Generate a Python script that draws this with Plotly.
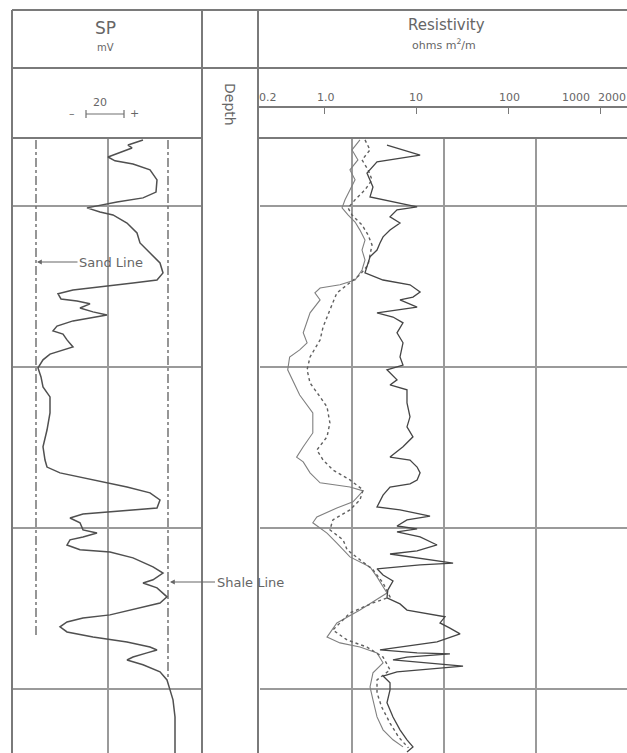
import math
import plotly.graph_objects as go

W, H = 627, 753

# ---- SP curve: depth (ft) and SP (mV) ----
sp_depth = [4979.5, 4981.1, 4982.0, 4983.2, 4984.8, 4986.0, 4987.0, 4988.8, 4991.9, 4995.7,
            4997.5, 4998.8, 4999.7, 5000.6, 5001.9, 5002.8, 5005.3, 5008.4, 5011.5, 5013.7,
            5015.8, 5017.7, 5020.8, 5023.0, 5023.9, 5025.2, 5026.1, 5027.3, 5028.9, 5029.5,
            5030.4, 5031.7, 5032.9, 5033.9, 5034.8, 5035.7, 5037.3, 5038.8, 5039.8, 5041.6,
            5043.8, 5044.7, 5046.0, 5047.8, 5050.3, 5053.1, 5056.2, 5059.3, 5064.3, 5069.6,
            5074.8, 5078.9, 5081.1, 5082.9, 5085.1, 5087.3, 5089.1, 5091.3, 5093.8, 5094.4,
            5095.0, 5095.7, 5096.9, 5098.4, 5100.6, 5101.6, 5102.8, 5103.7, 5105.3, 5106.8,
            5107.5, 5109.3, 5112.1, 5114.0, 5116.1, 5117.1, 5118.6, 5121.4, 5123.3, 5124.8,
            5127.0, 5128.0, 5129.2, 5130.7, 5132.3, 5133.9, 5135.4, 5137.0, 5137.9, 5138.8,
            5140.1, 5141.0, 5142.5, 5144.7, 5147.2, 5150.3, 5153.4, 5158.7, 5164.9, 5169.9]
sp_mv = [-29.5, -37, -35, -40, -47, -43.5, -34.5, -26, -22.5, -23,
         -29.5, -42.5, -51, -57.5, -51, -44.5, -37.5, -32.5, -31, -27.5,
         -24.5, -21, -19.5, -22.5, -34.5, -51, -64.5, -72, -70.5, -62.5,
         -56, -61, -54.5, -47.5, -56, -64.5, -72.5, -74.5, -69.5, -67.5,
         -64.5, -69.5, -76, -79.5, -82, -80.5, -79.5, -76, -76, -77.5,
         -79.5, -78.5, -77.5, -71, -54.5, -37.5, -26, -21, -22.5, -34.5,
         -47.5, -59.5, -66, -61, -59.5, -52.5, -59.5, -66, -67.5, -61,
         -46, -34.5, -24.5, -19.5, -24.5, -29.5, -22.5, -17.5, -21, -31,
         -46, -59.5, -67.5, -71, -67.5, -54.5, -37.5, -26, -22.5, -27.5,
         -34.5, -37.5, -29.5, -21, -17.5, -16, -14.5, -13.5, -13.5, -13.5]

SAND_LINE_MV = -83
SHALE_LINE_MV = -17
sand_line_depth = [4979.5, 5134.2]
shale_line_depth = [4979.5, 5147.2]

# ---- Resistivity curves (ohm m2/m) ----
deep_depth = [4981.1, 4981.7, 4984.2, 4986.3, 4989.8, 4994.1, 4997.2, 5000.3, 5001.2, 5003.4,
              5005.3, 5007.5, 5009.6, 5011.5, 5013.7, 5015.8, 5018.9, 5020.8, 5023.0, 5024.5,
              5026.7, 5028.3, 5029.2, 5031.4, 5033.2, 5034.5, 5036.3, 5039.4, 5042.5, 5046.9,
              5049.4, 5050.9, 5054.0, 5055.6, 5057.1, 5061.2, 5065.5, 5068.6, 5071.7, 5074.8,
              5078.0, 5078.9, 5081.1, 5082.9, 5085.1, 5086.3, 5087.3, 5089.8, 5093.5, 5094.4,
              5096.3, 5097.5, 5099.4, 5100.3, 5101.2, 5102.8, 5105.3, 5107.1, 5108.1, 5109.3,
              5110.9, 5111.5, 5112.7, 5114.6, 5116.5, 5119.3, 5121.7, 5123.6, 5125.5, 5127.6,
              5129.5, 5131.1, 5132.9, 5135.4, 5137.0, 5137.9, 5138.8, 5139.1, 5140.1, 5141.0,
              5142.9, 5143.8, 5144.7, 5146.0, 5148.1, 5150.3, 5154.3, 5158.7, 5162.7, 5165.8,
              5168.0, 5169.6]
deep_res = [4.80, 5.58, 11.0, 3.74, 2.91, 3.38, 3.14, 10.2, 6.17, 5.18,
            6.65, 5.18, 4.35, 4.03, 3.74, 3.14, 2.91, 2.77, 4.35, 8.54,
            11.0, 9.2, 6.65, 10.2, 3.74, 5.58, 7.17, 6.17, 7.17, 6.65,
            7.17, 4.80, 6.17, 5.18, 7.92, 7.92, 8.54, 7.92, 9.2, 7.17,
            5.18, 8.54, 10.2, 11.0, 10.2, 8.54, 5.18, 4.35, 3.74, 6.65,
            14.1, 7.92, 6.17, 10.2, 6.17, 11.0, 16.8, 10.2, 5.18, 10.2,
            25.1, 11.0, 3.74, 4.35, 5.58, 4.9, 4.80, 6.65, 7.92, 20.5,
            18.1, 23.2, 29.9, 16.8, 6.17, 4.03, 10.2, 23.2, 7.92, 5.58,
            32.2, 15.2, 6.17, 4.35, 5.18, 5.18, 4.80, 5.58, 6.65, 7.92,
            9.2, 7.92]

shallow_depth = [4979.5, 4982.6, 4985.7, 4988.8, 4991.9, 4995.0, 4998.1, 5000.6, 5002.8, 5005.0,
                 5007.5, 5010.6, 5013.7, 5016.8, 5019.9, 5023.0, 5024.5, 5025.5, 5027.0, 5029.2,
                 5033.2, 5039.4, 5042.5, 5044.7, 5046.9, 5050.9, 5054.0, 5058.7, 5064.3, 5070.5,
                 5074.8, 5078.0, 5079.5, 5082.9, 5086.0, 5087.3, 5088.5, 5091.9, 5093.8, 5096.6,
                 5098.4, 5101.6, 5104.7, 5109.0, 5112.1, 5115.2, 5120.2, 5125.5, 5129.5, 5133.9,
                 5135.7, 5137.0, 5138.8, 5141.9, 5145.0, 5149.4, 5153.4, 5158.7, 5162.7, 5165.8,
                 5168.0]
shallow_res = [2.44, 2.0, 2.32, 1.90, 2.16, 1.90, 1.68, 1.56, 1.81, 2.16,
               2.44, 2.77, 2.57, 2.77, 2.57, 2.16, 1.48, 0.90, 0.79, 0.90,
               0.70, 0.59, 0.65, 0.54, 0.42, 0.40, 0.45, 0.54, 0.75, 0.75,
               0.59, 0.50, 0.59, 0.70, 0.90, 1.90, 2.64, 2.05, 1.37, 0.83,
               0.75, 1.07, 1.37, 1.90, 3.14, 3.74, 4.80, 2.44, 1.37, 1.07,
               1.48, 2.44, 3.74, 4.35, 3.38, 3.14, 3.38, 3.74, 4.35, 5.58,
               7.17]

medium_depth = [4979.5, 4982.6, 4985.7, 4988.8, 4991.9, 4995.0, 4998.1, 5000.6, 5002.8, 5005.9,
                5009.0, 5012.1, 5015.2, 5018.3, 5021.4, 5023.9, 5027.0, 5032.3, 5037.6, 5041.6,
                5046.9, 5050.9, 5055.0, 5059.3, 5062.4, 5067.4, 5071.7, 5075.8, 5078.9, 5082.0,
                5085.1, 5088.2, 5091.3, 5094.4, 5097.5, 5100.6, 5103.7, 5106.8, 5109.9, 5113.0,
                5117.1, 5121.4, 5123.3, 5126.4, 5131.7, 5134.8, 5137.0, 5140.1, 5144.1, 5147.2,
                5151.2, 5155.6, 5160.6, 5164.9, 5168.3]
medium_res = [2.77, 3.14, 2.57, 2.99, 3.30, 2.77, 2.16, 1.81, 2.0, 2.57,
              2.99, 3.30, 3.14, 2.99, 2.44, 1.90, 1.37, 1.15, 0.97, 0.90,
              0.70, 0.65, 0.70, 0.90, 1.07, 1.15, 1.07, 0.83, 0.97, 1.24,
              1.90, 2.64, 2.44, 1.90, 1.24, 1.15, 1.60, 1.77, 2.44, 3.38,
              4.35, 5.18, 3.38, 1.90, 1.24, 1.77, 2.91, 4.35, 5.18, 3.74,
              3.74, 4.2, 5.18, 6.4, 8.2]

# ---- scales and grids ----
DEPTH_TOP, DEPTH_BOTTOM = 4978.9, 5169.9
depth_grid = [5000, 5050, 5100, 5150]
SP_MIN, SP_MAX = -94.5, 0.0
sp_grid = [-47]
RES_MIN = 0.2
RES_DECADE_PX = 92
res_grid = [2, 20, 200, 2000]
scale_ticks = [1, 10, 100, 1000]
scale_labels = ["0.2", "1.0", "10", "100", "1000", "2000"]


def px(x):
    return x / W


def py(y):
    return 1 - y / H


LINE = "#7a7a7a"
GRID = "#9a9a9a"
CURVE = "#505050"
TEXT = "#666666"
FONT = "DejaVu Sans"

res_log_max = math.log10(RES_MIN) + (W - 260) / RES_DECADE_PX

fig = go.Figure()

# SP track
fig.add_trace(go.Scatter(x=[SAND_LINE_MV] * 2, y=sand_line_depth, mode="lines",
                         line=dict(color="#6a6a6a", width=1.4, dash="dashdot"),
                         xaxis="x", yaxis="y", hoverinfo="skip"))
fig.add_trace(go.Scatter(x=[SHALE_LINE_MV] * 2, y=shale_line_depth, mode="lines",
                         line=dict(color="#6a6a6a", width=1.4, dash="dashdot"),
                         xaxis="x", yaxis="y", hoverinfo="skip"))
fig.add_trace(go.Scatter(x=sp_mv, y=sp_depth, mode="lines",
                         line=dict(color=CURVE, width=1.5),
                         xaxis="x", yaxis="y", name="SP"))

# Resistivity track
fig.add_trace(go.Scatter(x=shallow_res, y=shallow_depth, mode="lines",
                         line=dict(color="#808080", width=1.1),
                         xaxis="x2", yaxis="y2", name="Shallow"))
fig.add_trace(go.Scatter(x=medium_res, y=medium_depth, mode="lines",
                         line=dict(color="#606060", width=1.4, dash="dot"),
                         xaxis="x2", yaxis="y2", name="Medium"))
fig.add_trace(go.Scatter(x=deep_res, y=deep_depth, mode="lines",
                         line=dict(color="#454545", width=1.3),
                         xaxis="x2", yaxis="y2", name="Deep"))

# invisible trace to carry the header scale axis
fig.add_trace(go.Scatter(x=[1], y=[0], mode="markers", marker=dict(opacity=0),
                         xaxis="x3", yaxis="y3", hoverinfo="skip"))

shapes = []


def seg(x0, y0, x1, y1, color=LINE, width=2):
    shapes.append(dict(type="line", xref="paper", yref="paper",
                       x0=px(x0), y0=py(y0), x1=px(x1), y1=py(y1),
                       line=dict(color=color, width=width), layer="above"))


# header and track frame
seg(12, 10, W, 10)
seg(12, 68, W, 68)
seg(12, 138, 202, 138)
seg(258, 138, W, 138)
seg(12, 10, 12, H)
seg(202, 10, 202, H)
seg(258, 10, 258, H)

# SP scale bar
seg(86, 114, 124, 114, color="#707070", width=1.2)
seg(86, 110, 86, 118, color="#707070", width=1.2)
seg(124, 110, 124, 118, color="#707070", width=1.2)

annotations = [
    dict(text="SP", x=px(105), y=py(28), font=dict(size=17)),
    dict(text="mV", x=px(105), y=py(48), font=dict(size=10)),
    dict(text="Resistivity", x=px(446), y=py(25), font=dict(size=15)),
    dict(text="ohms m<sup>2</sup>/m", x=px(444), y=py(45), font=dict(size=11)),
    dict(text="20", x=px(100), y=py(103), font=dict(size=11)),
    dict(text="\u2013", x=px(72), y=py(114), font=dict(size=11)),
    dict(text="+", x=px(134), y=py(114), font=dict(size=11)),
    dict(text="Depth", x=px(230), y=py(104), textangle=90, font=dict(size=14)),
]
label_pos = [(268, "center"), (326, "center"), (416, "center"), (509, "center"),
             (592, "right"), (596, "left")]
for lab, (lx, anc) in zip(scale_labels, label_pos):
    annotations.append(dict(text=lab, x=px(lx), y=py(97), xanchor=anc,
                            font=dict(size=11)))

for a in annotations:
    a.setdefault("xref", "paper")
    a.setdefault("yref", "paper")
    a.setdefault("showarrow", False)
    a.setdefault("xanchor", "center")
    a["yanchor"] = "middle"
    a["font"].update(family=FONT, color=TEXT)

annotations.append(dict(text="Sand Line", xref="paper", yref="paper",
                        x=px(37), y=py(262), ax=74, ay=0, showarrow=True,
                        arrowhead=2, arrowsize=0.8, arrowwidth=1.2, arrowcolor="#666",
                        font=dict(family=FONT, size=13, color=TEXT)))
annotations.append(dict(text="Shale Line", xref="paper", yref="paper",
                        x=px(170), y=py(582), ax=80, ay=0, showarrow=True,
                        arrowhead=2, arrowsize=0.8, arrowwidth=1.2, arrowcolor="#666",
                        font=dict(family=FONT, size=13, color=TEXT)))

axis_common = dict(showticklabels=False, ticks="", zeroline=False, showline=False,
                   gridcolor=GRID, gridwidth=1.5, fixedrange=True)

fig.update_layout(
    width=W, height=H,
    margin=dict(l=0, r=0, t=0, b=0),
    paper_bgcolor="white", plot_bgcolor="rgba(0,0,0,0)",
    showlegend=False,
    xaxis=dict(domain=[px(13), px(202)], range=[SP_MIN, SP_MAX], anchor="y",
               tickvals=sp_grid, showgrid=True, **axis_common),
    yaxis=dict(domain=[0, py(138)], range=[DEPTH_BOTTOM, DEPTH_TOP], anchor="x",
               tickvals=depth_grid, showgrid=True, **axis_common),
    xaxis2=dict(domain=[px(260), 1.0], type="log",
                range=[math.log10(RES_MIN), res_log_max], anchor="y2",
                tickvals=res_grid, showgrid=True, **axis_common),
    yaxis2=dict(domain=[0, py(138)], range=[DEPTH_BOTTOM, DEPTH_TOP], anchor="x2",
                tickvals=depth_grid, showgrid=True, **axis_common),
    xaxis3=dict(domain=[px(258), 1.0], type="log",
                range=[math.log10(RES_MIN) - 2 / RES_DECADE_PX, res_log_max],
                anchor="y3", side="top", showline=True, linecolor=LINE, linewidth=2,
                ticks="inside", ticklen=6, tickwidth=1.2, tickcolor=LINE,
                tickvals=scale_ticks, showticklabels=False, showgrid=False,
                zeroline=False, fixedrange=True),
    yaxis3=dict(domain=[py(125), py(108)], range=[0, 1], anchor="x3",
                visible=False, fixedrange=True),
    shapes=shapes,
    annotations=annotations,
)

fig.write_html("out.html")
